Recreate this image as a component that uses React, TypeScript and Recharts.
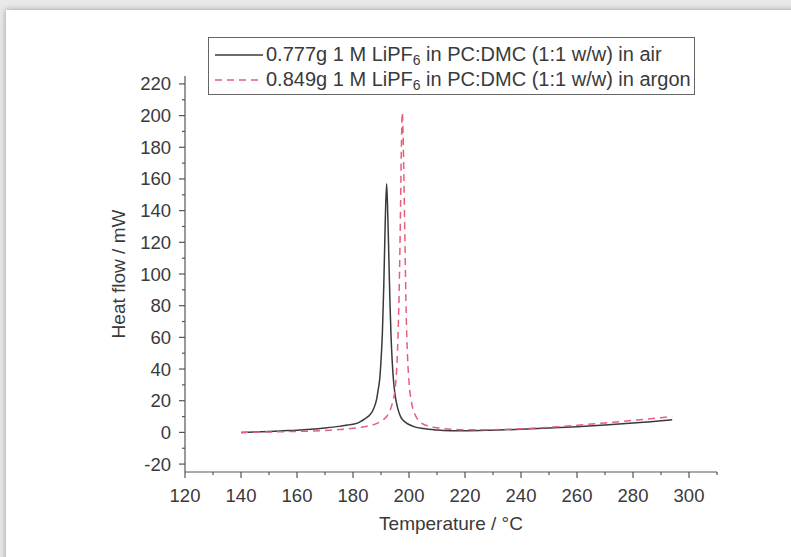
import { LineChart, Line, XAxis, YAxis, Legend } from "recharts";

// sample in air (black, solid)
const airTemp = [
  140, 145, 150, 155, 160, 165, 170, 175, 178, 180,
  182, 183, 184, 185, 186, 187, 188, 188.5, 189, 189.5,
  190, 190.5, 191, 191.5, 192, 192.3, 192.7, 193.2, 193.6, 194,
  194.5, 195, 196, 197, 198, 199, 200, 202, 205, 210,
  215, 220, 230, 240, 250, 260, 270, 280, 290, 294,
];
const airFlow = [
  0, 0.3, 0.6, 1.0, 1.4, 2.0, 2.8, 3.8, 4.6, 5.2,
  6.2, 7.2, 8.3, 9.5, 11, 13.5, 18, 21.5, 27, 33,
  45, 63, 93, 132, 157, 145, 118, 82, 60, 45,
  32, 24, 15, 10, 7.5, 6, 5, 3.5, 2.4, 1.5,
  1.1, 1.0, 1.4, 2.0, 2.7, 3.6, 4.7, 5.9, 7.3, 8.0,
];

// sample in argon (red, dashed)
const argonTemp = [
  140, 150, 160, 170, 175, 180, 183, 185, 187, 189,
  190, 191, 192, 193, 194, 195, 195.5, 196, 196.5, 197,
  197.3, 197.6, 197.9, 198.2, 198.6, 199, 199.5, 200, 201, 202,
  203, 204, 206, 208, 211, 215, 220, 230, 240, 250,
  260, 270, 280, 290, 294,
];
const argonFlow = [
  0, 0.3, 0.6, 1.2, 1.8, 2.6, 3.3, 3.9, 4.7, 6,
  7, 8.3, 10, 13, 18, 27, 37, 57, 90, 145,
  182, 202, 188, 158, 115, 75, 47, 32, 18, 12,
  8.5, 6.5, 4.5, 3.5, 2.7, 2, 1.6, 1.7, 2.3, 3.2,
  4.5, 6, 7.6, 9.3, 10,
];

const xTicks = [120, 130, 140, 150, 160, 170, 180, 190, 200, 210, 220, 230, 240, 250, 260, 270, 280, 290, 300, 310];
const yTicks = [-20, -10, 0, 10, 20, 30, 40, 50, 60, 70, 80, 90, 100, 110, 120, 130, 140, 150, 160, 170, 180, 190, 200, 210, 220];

const airData = airTemp.map((t, i) => ({ t, v: airFlow[i] }));
const argonData = argonTemp.map((t, i) => ({ t, v: argonFlow[i] }));

const FONT = "'Liberation Sans', Arial, sans-serif";
const INK = "#3a3a3a";
const AXIS = "#555";
const RED = "#e4607c";

const legendRows = [
  { mass: "0.777g", gas: "air", color: INK, dash: undefined as string | undefined },
  { mass: "0.849g", gas: "argon", color: RED, dash: "7 5" },
];

const YTick = (props: any) => {
  const { x, y, payload } = props;
  const major = payload.value % 20 === 0;
  return (
    <g>
      <line x1={x} y1={y} x2={x - (major ? 6 : 3)} y2={y} stroke={AXIS} strokeWidth={1.2} />
      {major && (
        <text x={x - 14} y={y} textAnchor="end" dominantBaseline="central" fontSize={18.5} fontFamily={FONT} fill={INK}>
          {payload.value}
        </text>
      )}
    </g>
  );
};

const XTick = (props: any) => {
  const { x, y, payload } = props;
  const major = payload.value % 20 === 0 && payload.value <= 300;
  return (
    <g>
      <line x1={x} y1={y} x2={x} y2={y + (major ? 6 : 3)} stroke={AXIS} strokeWidth={1.2} />
      {major && (
        <text x={x} y={y + 23} textAnchor="middle" dominantBaseline="central" fontSize={18.5} fontFamily={FONT} fill={INK}>
          {payload.value}
        </text>
      )}
    </g>
  );
};

const renderLegend = () => (
  <div style={{
    border: "1px solid #666", background: "#fff", width: 487, height: 58, boxSizing: "border-box",
    padding: "4px 0 0 6px", fontFamily: FONT, fontSize: 20, color: INK, lineHeight: "25px",
  }}>
    {legendRows.map(r => (
      <div key={r.gas} style={{ display: "flex", alignItems: "center", height: 25, whiteSpace: "nowrap" }}>
        <svg width={51} height={10} style={{ flex: "none" }}>
          <line x1={0} y1={5} x2={48} y2={5} stroke={r.color} strokeWidth={1.5} strokeDasharray={r.dash} />
        </svg>
        <span>
          {r.mass} 1 M LiPF<span style={{ fontSize: "0.7em", verticalAlign: "-0.3em", lineHeight: 0 }}>6</span> in PC:DMC (1:1 w/w) in {r.gas}
        </span>
      </div>
    ))}
  </div>
);

export default function App() {
  return (
    <div style={{ position: "absolute", left: 0, top: 0, width: 791, height: 557, background: "#e9e9e9", overflow: "hidden" }}>
      <div style={{ position: "absolute", left: 6, top: 10, width: 800, height: 560, background: "#fff", boxShadow: "0 0 6px rgba(0,0,0,0.35)" }} />
      <div style={{ position: "absolute", left: 0, top: 0 }}>
        <LineChart width={791} height={557} margin={{ top: 76, right: 74, bottom: 0, left: 0 }}>
          <XAxis
            dataKey="t" type="number" domain={[120, 310]} ticks={xTicks} interval={0}
            allowDuplicatedCategory={false}
            height={85} tickSize={0} tickMargin={0} tickLine={false} tick={<XTick />}
            axisLine={{ stroke: AXIS, strokeWidth: 1.2 }}
            label={{ value: "Temperature / °C", position: "insideTop", offset: 45, fontSize: 19, fontFamily: FONT, fill: INK }}
          />
          <YAxis
            dataKey="v" type="number" domain={[-25, 225]} ticks={yTicks} interval={0}
            width={185} tickSize={0} tickMargin={0} tickLine={false} tick={<YTick />}
            axisLine={{ stroke: AXIS, strokeWidth: 1.2 }}
            label={{ value: "Heat flow / mW", angle: -90, position: "center", dx: 26, fontSize: 19, fontFamily: FONT, fill: INK }}
          />
          <Legend
            content={renderLegend} layout="horizontal" verticalAlign="middle" align="center"
            wrapperStyle={{ left: 208, top: 37, width: 487, height: 58 }}
          />
          <Line data={airData} dataKey="v" name="air" type="monotone" stroke={INK} strokeWidth={1.5} dot={false} isAnimationActive={false} />
          <Line data={argonData} dataKey="v" name="argon" type="monotone" stroke={RED} strokeWidth={1.5} strokeDasharray="7 5" dot={false} isAnimationActive={false} />
        </LineChart>
      </div>
    </div>
  );
}
